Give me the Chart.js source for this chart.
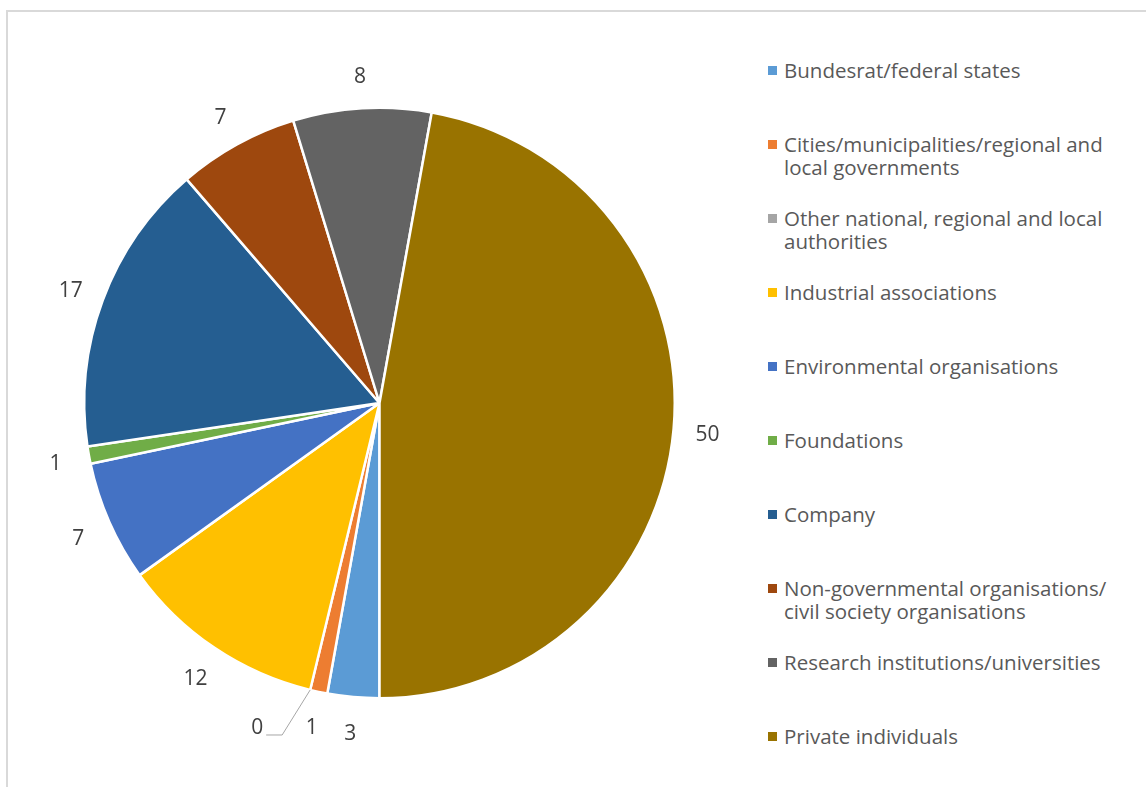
<!DOCTYPE html>
<html>
<head>
<meta charset="utf-8">
<script src="https://cdn.jsdelivr.net/npm/chart.js@4/dist/chart.umd.min.js"></script>
<style>
    html, body { margin: 0; padding: 0; background: #fff; }
    body { width: 1146px; height: 787px; position: relative; overflow: hidden; font-family: "Open Sans", "Noto Sans", sans-serif; }
    #frame { position: absolute; left: 6px; top: 10px; width: 1200px; height: 800px; border-left: 2px solid #d9d9d9; border-top: 2px solid #d9d9d9; }
    #pieWrap { position: absolute; left: 0; top: 0; width: 760px; height: 787px; }
    #legend { position: absolute; left: 768px; top: 59px; width: 370px; }
    .item { height: 74px; position: relative; color: #595959; font-size: 20.5px; line-height: 23px; }
    .item .box { position: absolute; left: 0; top: 7px; width: 9px; height: 9px; }
    .item .txt { position: absolute; left: 16px; top: 0; width: 340px; }
</style>
</head>
<body>
<div id="frame"></div>
<div id="pieWrap"><canvas id="pie"></canvas></div>
<div id="legend"></div>
<script>
const categories = [
    'Bundesrat/federal states',
    'Cities/municipalities/regional and local governments',
    'Other national, regional and local authorities',
    'Industrial associations',
    'Environmental organisations',
    'Foundations',
    'Company',
    'Non-governmental organisations/ civil society organisations',
    'Research institutions/universities',
    'Private individuals'
];
const values = [3, 1, 0, 12, 7, 1, 17, 7, 8, 50];
const colors = ['#5b9bd5', '#ed7d31', '#a5a5a5', '#ffc000', '#4472c4', '#70ad47', '#255e91', '#9e480e', '#636363', '#997300'];

// legend (HTML, right side)
const legendEl = document.getElementById('legend');
categories.forEach((name, i) => {
    const item = document.createElement('div');
    item.className = 'item';
    item.innerHTML = '<span class="box" style="background:' + colors[i] + '"></span><div class="txt">' + name + '</div>';
    legendEl.appendChild(item);
});

// outside value labels, with a leader line for empty slices
const valueLabels = {
    id: 'valueLabels',
    afterDatasetsDraw(chart) {
        const ctx = chart.ctx;
        const meta = chart.getDatasetMeta(0);
        ctx.save();
        ctx.font = '21px "Open Sans", "Noto Sans", sans-serif';
        ctx.fillStyle = '#404040';
        ctx.textBaseline = 'middle';
        meta.data.forEach((arc, i) => {
            const mid = (arc.startAngle + arc.endAngle) / 2;
            const r = arc.outerRadius;
            const v = chart.data.datasets[0].data[i];
            if (v === 0) {
                const px = arc.x + r * Math.cos(mid), py = arc.y + r * Math.sin(mid);
                const ex = px - 28, ey = py + 45;
                ctx.strokeStyle = '#a6a6a6';
                ctx.lineWidth = 1;
                ctx.beginPath();
                ctx.moveTo(px, py);
                ctx.lineTo(ex, ey);
                ctx.lineTo(ex - 16, ey);
                ctx.stroke();
                ctx.textAlign = 'right';
                ctx.fillText(String(v), ex - 19, ey - 7);
            } else {
                const lr = r + 34;
                ctx.textAlign = 'center';
                ctx.fillText(String(v), arc.x + lr * Math.cos(mid), arc.y + lr * Math.sin(mid) + 3);
            }
        });
        ctx.restore();
    }
};

new Chart(document.getElementById('pie'), {
    type: 'pie',
    data: {
        labels: categories,
        datasets: [{
            data: values,
            backgroundColor: colors,
            borderColor: '#ffffff',
            borderWidth: 2.5,
            hoverOffset: 0
        }]
    },
    options: {
        responsive: true,
        maintainAspectRatio: false,
        animation: false,
        rotation: 180,
        layout: { padding: { left: 83, top: 106, right: 84, bottom: 87 } },
        plugins: {
            legend: { display: false },
            tooltip: { enabled: false }
        }
    },
    plugins: [valueLabels]
});
</script>
</body>
</html>
